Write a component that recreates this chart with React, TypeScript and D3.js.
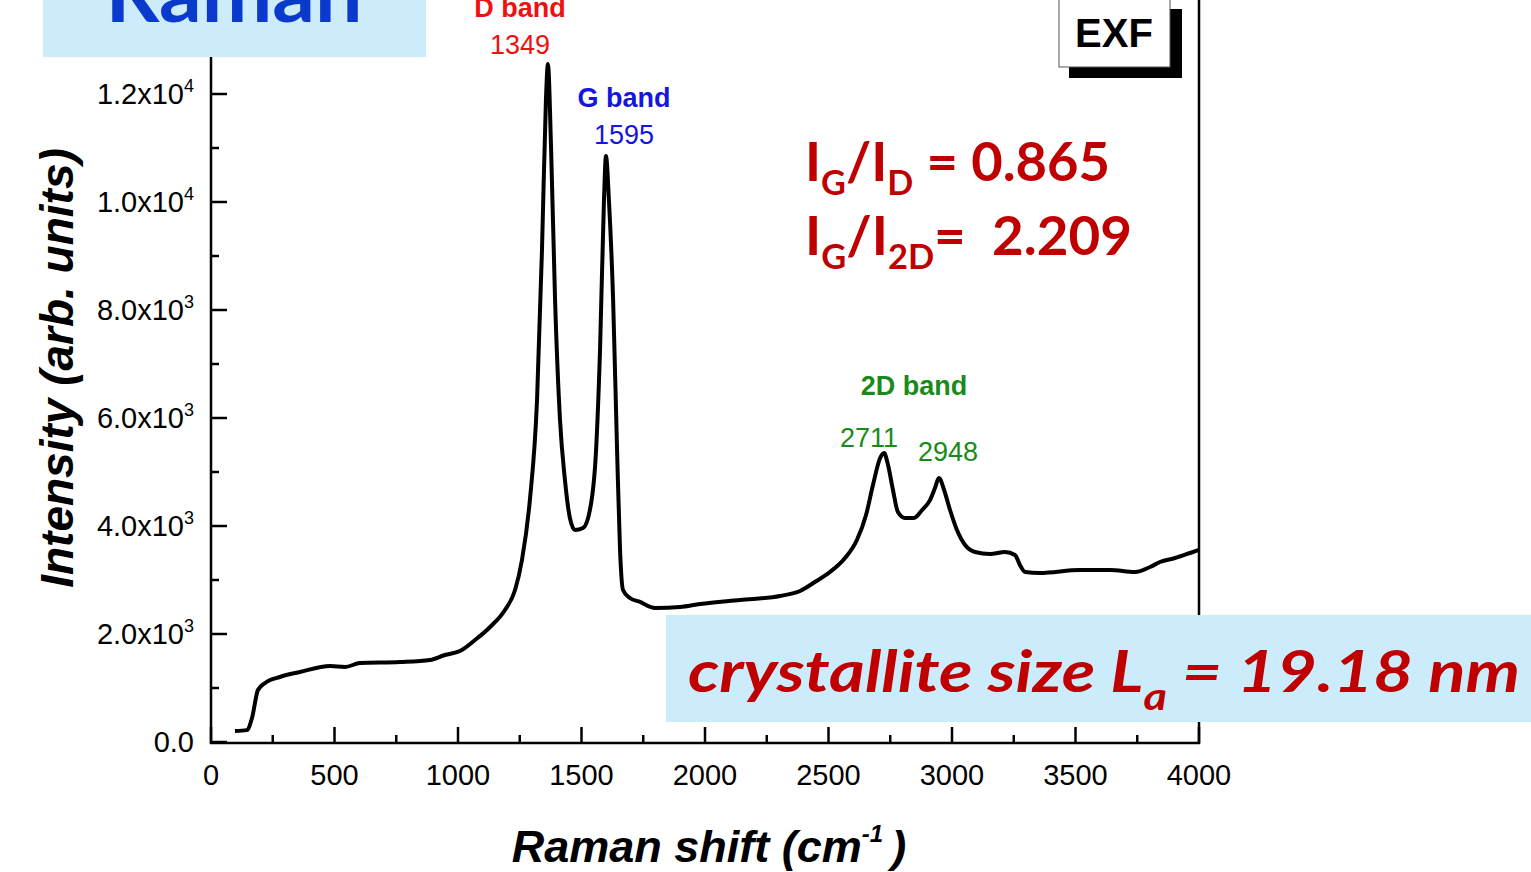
import React from "react";
import * as d3 from "d3";

// Raman spectrum
const ramanShift = [
  97, 145, 166, 190, 219, 279, 360, 482, 543, 603, 765, 887, 947, 1008, 1069, 1130, 1190, 1231, 1259, 1291,
  1320, 1340, 1356, 1364, 1377, 1393, 1413, 1433, 1453, 1474, 1506, 1534, 1559, 1575, 1591, 1599, 1611, 1628,
  1644, 1656, 1668, 1696, 1737, 1798, 1899, 1980, 2142, 2304, 2385, 2445, 2506, 2567, 2615, 2652, 2680, 2709,
  2725, 2741, 2761, 2781, 2810, 2846, 2879, 2911, 2931, 2947, 2968, 2992, 3020, 3053, 3093, 3154, 3215, 3255,
  3275, 3296, 3356, 3518, 3640, 3741, 3802, 3842, 3903, 3964, 4000,
];
const intensity = [
  204, 220, 444, 963, 1093, 1204, 1296, 1407, 1389, 1463, 1481, 1519, 1611, 1685, 1889, 2130, 2444, 2815, 3370, 4481,
  6333, 9111, 11889, 12556, 10963, 8185, 5963, 4852, 4148, 3926, 3963, 4296, 5407, 7259, 10037, 10852, 10037, 8185,
  5407, 3556, 2815, 2667, 2593, 2481, 2500, 2556, 2630, 2704, 2796, 2963, 3148, 3407, 3741, 4204, 4759, 5259,
  5352, 5130, 4667, 4259, 4148, 4148, 4296, 4481, 4704, 4889, 4667, 4296, 3926, 3648, 3519, 3481, 3519, 3463,
  3278, 3148, 3130, 3185, 3185, 3148, 3241, 3333, 3407, 3500, 3556,
];

const xMajorTicks = [0, 500, 1000, 1500, 2000, 2500, 3000, 3500, 4000];
const xMinorTicks = [250, 750, 1250, 1750, 2250, 2750, 3250, 3750];
const yMajorTicks = [0, 2000, 4000, 6000, 8000, 10000, 12000];
const yMinorTicks = [1000, 3000, 5000, 7000, 9000, 11000, 13000];
const yTickMantissa = ["0.0", "2.0", "4.0", "6.0", "8.0", "1.0", "1.2"];
const yTickExponent = ["", "3", "3", "3", "3", "4", "4"];

const ARIAL = "'Liberation Sans', Arial, sans-serif";
const CAL = "Lato, 'Open Sans', sans-serif";

export default function App() {
  const x = d3.scaleLinear().domain([0, 4000]).range([211, 1199]);
  const y = d3.scaleLinear().domain([0, 14000]).range([742, -14]);
  const pts = ramanShift.map((r, i) => [r, intensity[i]] as [number, number]);
  const line = d3
    .line<[number, number]>()
    .x((d) => x(d[0]))
    .y((d) => y(d[1]))
    .curve(d3.curveMonotoneX);
  const x0 = x(0);
  const x1 = x(4000);
  const yb = y(0) + 1;

  return (
    <svg
      width={1531}
      height={872}
      style={{ position: "absolute", left: 0, top: 0, display: "block", background: "#fff" }}
    >
      <rect x={0} y={0} width={1531} height={872} fill="#fff" />

      {/* curve */}
      <path d={line(pts) || ""} fill="none" stroke="#000" strokeWidth={4} strokeLinejoin="round" />

      {/* axes */}
      <line x1={x0} x2={x0} y1={-20} y2={yb + 1} stroke="#000" strokeWidth={2.5} />
      <line x1={x1} x2={x1} y1={-20} y2={yb + 1} stroke="#000" strokeWidth={2.5} />
      <line x1={x0 - 1} x2={x1 + 1} y1={yb} y2={yb} stroke="#000" strokeWidth={2.5} />

      {xMajorTicks.map((t) => (
        <g key={"xM" + t}>
          <line x1={x(t)} x2={x(t)} y1={yb} y2={yb - 16} stroke="#000" strokeWidth={2.5} />
          <text x={x(t)} y={785} textAnchor="middle" fontFamily={ARIAL} fontSize={29} fill="#000">
            {t}
          </text>
        </g>
      ))}
      {xMinorTicks.map((t) => (
        <line key={"xm" + t} x1={x(t)} x2={x(t)} y1={yb} y2={yb - 8} stroke="#000" strokeWidth={2.5} />
      ))}
      {yMajorTicks.map((t, i) => (
        <g key={"yM" + t}>
          <line x1={x0} x2={x0 + 16} y1={y(t)} y2={y(t)} stroke="#000" strokeWidth={2.5} />
          <text x={194} y={y(t) + 10} textAnchor="end" fontFamily={ARIAL} fontSize={29} fill="#000">
            {yTickMantissa[i]}
            {yTickExponent[i] ? "x10" : ""}
            {yTickExponent[i] ? (
              <tspan fontSize={18} dy={-12}>
                {yTickExponent[i]}
              </tspan>
            ) : null}
          </text>
        </g>
      ))}
      {yMinorTicks.map((t) => (
        <line key={"ym" + t} x1={x0} x2={x0 + 8} y1={y(t)} y2={y(t)} stroke="#000" strokeWidth={2.5} />
      ))}

      {/* axis titles */}
      <text
        transform="translate(73,368) rotate(-90)"
        textAnchor="middle"
        fontFamily={ARIAL}
        fontWeight="bold"
        fontStyle="italic"
        fontSize={46}
        fill="#000"
      >
        Intensity (arb. units)
      </text>
      <text x={709} y={862} textAnchor="middle" fontFamily={ARIAL} fontWeight="bold" fontStyle="italic" fontSize={45} fill="#000">
        Raman shift (cm
        <tspan fontSize={24} dy={-20}>-1</tspan>
        <tspan dy={20} dx={8}>)</tspan>
      </text>

      {/* band labels */}
      <text x={520} y={17} textAnchor="middle" fontFamily={ARIAL} fontWeight="bold" fontSize={27} fill="#EE1111">D band</text>
      <text x={520} y={54} textAnchor="middle" fontFamily={ARIAL} fontSize={27} fill="#EE1111">1349</text>
      <text x={624} y={107} textAnchor="middle" fontFamily={ARIAL} fontWeight="bold" fontSize={27} fill="#1515E0">G band</text>
      <text x={624} y={144} textAnchor="middle" fontFamily={ARIAL} fontSize={27} fill="#1515E0">1595</text>
      <text x={914} y={395} textAnchor="middle" fontFamily={ARIAL} fontWeight="bold" fontSize={27} fill="#1A8A1A">2D band</text>
      <text x={869} y={447} textAnchor="middle" fontFamily={ARIAL} fontSize={27} fill="#1A8A1A">2711</text>
      <text x={948} y={461} textAnchor="middle" fontFamily={ARIAL} fontSize={27} fill="#1A8A1A">2948</text>

      {/* ratios */}
      <text x={805} y={181} fontFamily={CAL} fontWeight="bold" fontSize={54} fill="#C00000" textLength={305} lengthAdjust="spacingAndGlyphs">
        I<tspan fontSize={34} dy={14}>G</tspan>
        <tspan dy={-14}>/I</tspan>
        <tspan fontSize={34} dy={14}>D</tspan>
        <tspan dy={-14}> = 0.865</tspan>
      </text>
      <text x={805} y={255} fontFamily={CAL} fontWeight="bold" fontSize={54} fill="#C00000" textLength={327} lengthAdjust="spacingAndGlyphs">
        I<tspan fontSize={34} dy={14}>G</tspan>
        <tspan dy={-14}>/I</tspan>
        <tspan fontSize={34} dy={14}>2D</tspan>
        <tspan dy={-14}>=</tspan>
        <tspan dx={26}>2.209</tspan>
      </text>

      {/* Raman header box */}
      <rect x={43} y={0} width={383} height={57} fill="#CCEBFB" />
      <text x={234} y={22} textAnchor="middle" fontFamily={CAL} fontWeight="bold" fontSize={80} fill="#0A3ACC" textLength={257} lengthAdjust="spacingAndGlyphs">
        Raman
      </text>

      {/* EXF box */}
      <rect x={1069} y={9} width={113} height={69} fill="#000" />
      <rect x={1059} y={-5} width={111} height={72} fill="#fff" stroke="#555" strokeWidth={1} />
      <text x={1114} y={47} textAnchor="middle" fontFamily={ARIAL} fontWeight="bold" fontSize={40} fill="#000">EXF</text>

      {/* crystallite box */}
      <rect x={666} y={615} width={865} height={107} fill="#CCEBFB" />
      <text x={688} y={692} fontFamily={CAL} fontWeight="bold" fontStyle="italic" fontSize={58} fill="#C00000" textLength={832} lengthAdjust="spacingAndGlyphs">
        crystallite size L<tspan fontSize={38} dy={18}>a</tspan>
        <tspan dy={-18}> = 19.18 nm</tspan>
      </text>
    </svg>
  );
}
